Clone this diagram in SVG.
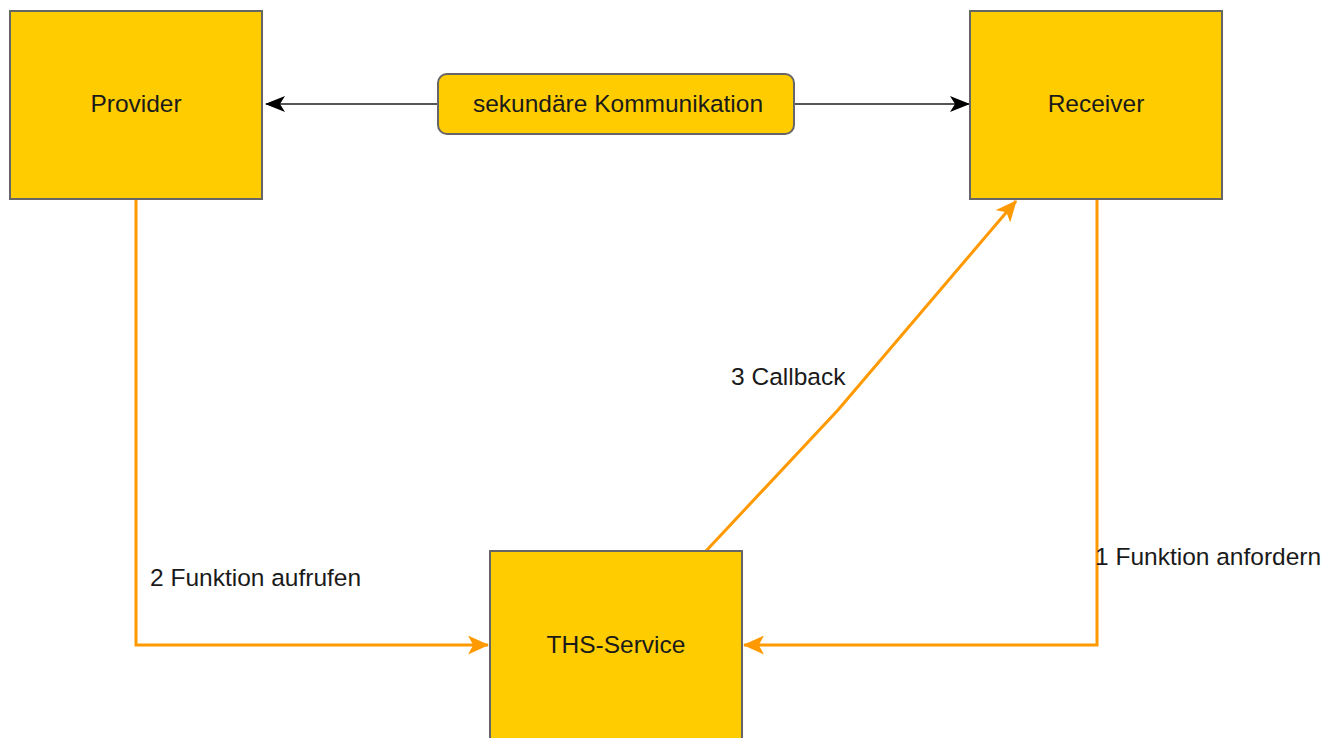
<svg xmlns="http://www.w3.org/2000/svg" width="1323" height="738" viewBox="0 0 1323 738">
<style>
.node{fill:#ffcc00;stroke:#666;stroke-width:2}
.t{font-family:"Liberation Sans",Arial,sans-serif;font-size:24.5px;fill:#1a1a1a}
.c{text-anchor:middle}
.o{fill:none;stroke:#ff9900;stroke-width:3}
.g{fill:none;stroke:#555;stroke-width:2}
</style>
<defs>
<marker id="ao" viewBox="0 0 20 18" refX="19" refY="9" markerWidth="22" markerHeight="19" markerUnits="userSpaceOnUse" orient="auto">
<path d="M0,0 L20,9 L0,18 L5,9 Z" fill="#ff9900"/>
</marker>
<marker id="ab" viewBox="0 0 20 16" refX="19" refY="8" markerWidth="20" markerHeight="16" markerUnits="userSpaceOnUse" orient="auto">
<path d="M0,0 L20,8 L0,16 L5,8 Z" fill="#000"/>
</marker>
</defs>
<rect width="1323" height="738" fill="#fff"/>
<g id="connectors">
<path class="g" d="M438,104 L266,104" marker-end="url(#ab)"/>
<path class="g" d="M794,104 L969,104" marker-end="url(#ab)"/>
<path class="o" d="M136,199 L136,645 L488,645" marker-end="url(#ao)"/>
<path class="o" d="M1097,199 L1097,645 L744,645" marker-end="url(#ao)"/>
<path class="o" d="M706,551 L838,410 L1016,201" marker-end="url(#ao)"/>
<text class="t" x="150" y="586">2 Funktion aufrufen</text>
<text class="t" x="1095" y="565">1 Funktion anfordern</text>
<text class="t" x="731" y="385">3 Callback</text>
</g>
<g id="provider">
<rect class="node" x="10" y="11" width="252" height="188"/>
<text class="t c" x="136" y="112">Provider</text>
</g>
<g id="receiver">
<rect class="node" x="970" y="11" width="252" height="188"/>
<text class="t c" x="1096" y="112">Receiver</text>
</g>
<g id="ths-service">
<rect class="node" x="490" y="551" width="252" height="200"/>
<text class="t c" x="616" y="653">THS-Service</text>
</g>
<g id="sekundaer">
<rect class="node" x="438" y="74" width="356" height="60" rx="9"/>
<text class="t c" x="618" y="112">sekundäre Kommunikation</text>
</g>
</svg>
